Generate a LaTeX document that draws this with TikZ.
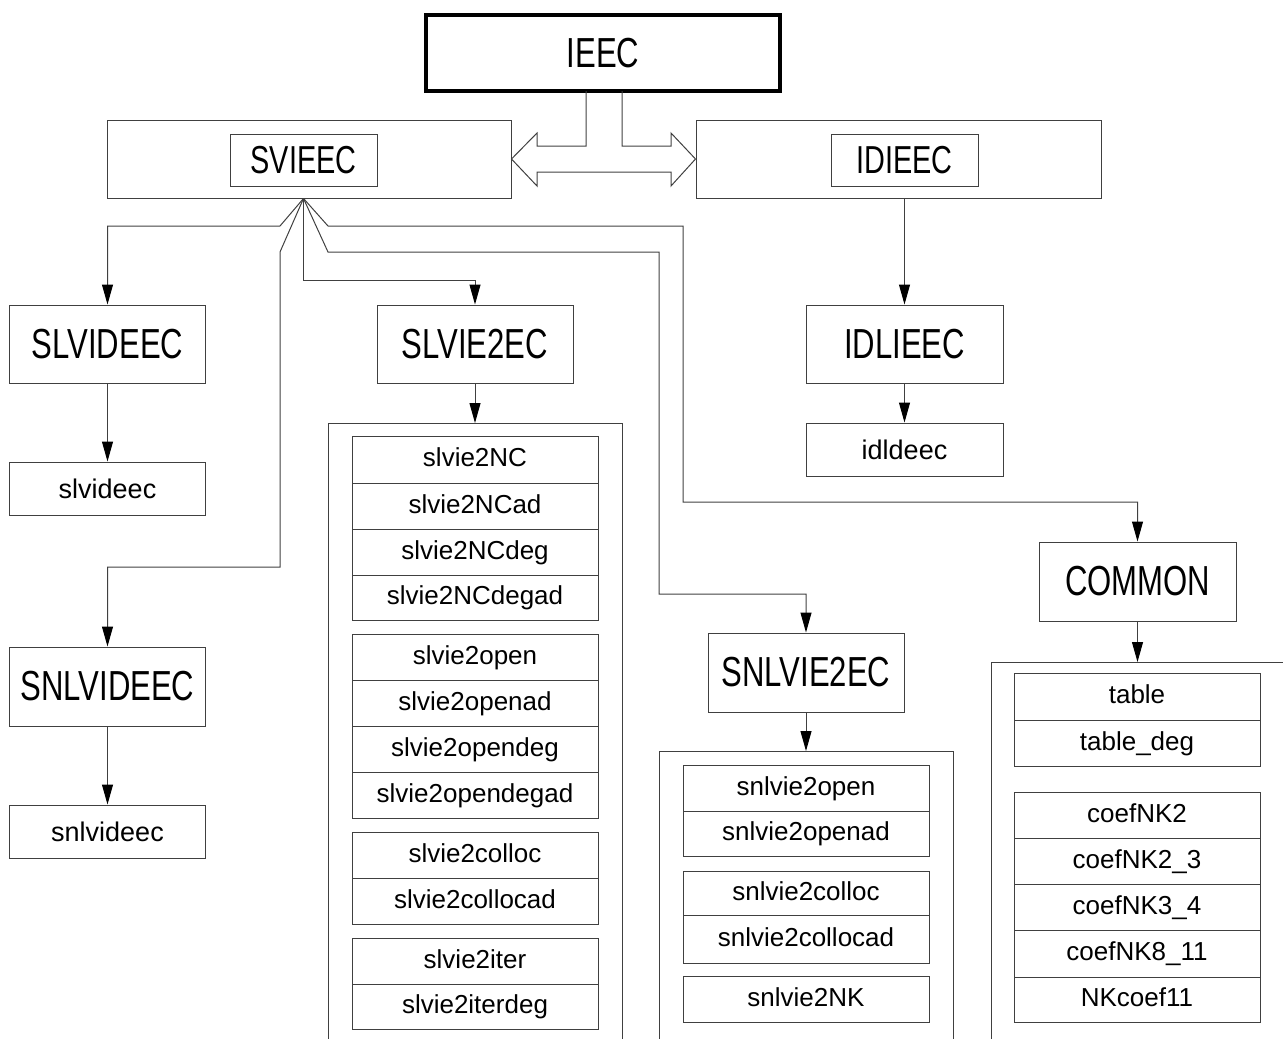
\documentclass[tikz,border=0pt]{standalone}
\usepackage{fontspec}
\setmainfont{Liberation Sans}
\newfontfamily\capsfont[FakeStretch=0.74]{Liberation Sans}
\usetikzlibrary{arrows.meta}

\begin{document}
\begin{tikzpicture}[x=1pt, y=-1pt,
    box/.style={draw=black!75, line width=1pt, inner sep=0pt},
    bigbox/.style={box, minimum width=196pt, minimum height=78pt, font=\capsfont\fontsize{42}{42}\selectfont},
    smallbox/.style={box, minimum width=196pt, minimum height=53pt, font=\fontsize{27}{27}\selectfont},
    item/.style={box, minimum width=246pt, font=\fontsize{26}{26}\selectfont, text height=18pt, text depth=4pt},
    link/.style={draw=black!75, line width=1pt},
    arr/.style={link, -{Triangle[length=20pt,width=11pt,color=black]}}]
    \useasboundingbox (0,0) rectangle (1283,1039);

    % Draw the top block
    \node[box, draw=black, line width=4.5pt, minimum width=354pt, minimum height=76pt,
          font=\capsfont\fontsize{42}{42}\selectfont] (ieec) at (603,53) {IEEC};

    % Draw the two main blocks
    \node[box, minimum width=404pt, minimum height=78pt] (svout) at (309,159) {};
    \node[box, minimum width=147pt, minimum height=52pt, font=\capsfont\fontsize{39}{39}\selectfont] (svin) at (303.5,160) {SVIEEC};
    \node[box, minimum width=405pt, minimum height=78pt] (idout) at (898.5,159) {};
    \node[box, minimum width=147pt, minimum height=52pt, font=\capsfont\fontsize{39}{39}\selectfont] (idin) at (904.5,160) {IDIEEC};

    % Draw the double block arrow
    \draw[link] (586,91) -- (586,146) -- (537,146) -- (537,133) -- (svout.east)
        -- (537,186) -- (537,172) -- (671,172) -- (671,186) -- (idout.west)
        -- (671,133) -- (671,146) -- (622,146) -- (622,91);

    % Draw the second level
    \node[bigbox] (slvbig) at (107.5,344) {SLVIDEEC};
    \node[smallbox] (slvsmall) at (107.5,488.5) {slvideec};
    \node[bigbox, minimum height=79pt] (snlvbig) at (107.5,686.5) {SNLVIDEEC};
    \node[smallbox] (snlvsmall) at (107.5,831.5) {snlvideec};
    \node[bigbox] (slvie2) at (475,344) {SLVIE2EC};
    \node[bigbox, minimum height=79pt] (snlvie2) at (806,672.5) {SNLVIE2EC};
    \node[bigbox, minimum width=197pt] (idlieec) at (904.5,344) {IDLIEEC};
    \node[smallbox, minimum width=197pt] (idldeec) at (904.5,449.5) {idldeec};
    \node[bigbox, minimum width=197pt, minimum height=79pt] (common) at (1137.5,581.5) {COMMON};

    % Draw the open frames
    \draw[link] (328,1039) -- (328,423) -- (622,423) -- (622,1039);
    \draw[link] (659,1039) -- (659,751) -- (953,751) -- (953,1039);
    \draw[link] (991,1039) -- (991,662) -- (1283,662);
    \coordinate (slvtop) at (475,423);
    \coordinate (snltop) at (806,751);
    \coordinate (comtop) at (1137.5,662);

    % Draw the file lists
    \foreach \n/\y/\h/\s in {a1/459.5/47/slvie2NC, a2/506/46/slvie2NCad, a3/552/46/slvie2NCdeg,
        a4/597.5/45/slvie2NCdegad, a5/657/46/slvie2open, a6/703/46/slvie2openad,
        a7/749/46/slvie2opendeg, a8/795/46/slvie2opendegad, a9/855/46/slvie2colloc,
        a10/901/46/slvie2collocad, a11/961/46/slvie2iter, a12/1006.5/45/slvie2iterdeg}
        \node[item, minimum height=\h pt] (\n) at (475,\y) {\s};
    \foreach \n/\y/\h/\s in {b1/788/46/snlvie2open, b2/833.5/45/snlvie2openad,
        b3/893/44/snlvie2colloc, b4/939/48/snlvie2collocad, b5/999/46/snlvie2NK}
        \node[item, minimum height=\h pt] (\n) at (806,\y) {\s};
    \foreach \n/\y/\h/\s in {c1/696.5/47/table, c2/743/46/table\_deg, c3/815/46/coefNK2,
        c4/861/46/coefNK2\_3, c5/907/46/coefNK3\_4, c6/953.5/47/coefNK8\_11, c7/999.5/45/NKcoef11}
        \node[item, minimum height=\h pt] (\n) at (1137,\y) {\s};

    % Draw the connectors from SVIEEC
    \coordinate (fan) at (svin.center |- svout.south);
    \draw[arr] (fan) -- (280,226) -- (slvbig.north |- 0,226) -- (slvbig.north);
    \draw[arr] (fan) -- (280,252) -- (280,567) -- (snlvbig.north |- 0,567) -- (snlvbig.north);
    \draw[arr] (fan) -- (fan |- 0,280) -- (slvie2.north |- 0,280) -- (slvie2.north);
    \draw[arr] (fan) -- (328,252) -- (659,252) -- (659,594) -- (snlvie2.north |- 0,594) -- (snlvie2.north);
    \draw[arr] (fan) -- (328,226) -- (683,226) -- (683,502) -- (common.north |- 0,502) -- (common.north);

    % Draw the other connectors
    \draw[arr] (idin.south |- idout.south) -- (idlieec.north);
    \draw[arr] (idlieec) -- (idldeec);
    \draw[arr] (slvbig) -- (slvsmall);
    \draw[arr] (snlvbig) -- (snlvsmall);
    \draw[arr] (slvie2) -- (slvtop);
    \draw[arr] (snlvie2) -- (snltop);
    \draw[arr] (common) -- (comtop);
\end{tikzpicture}
\end{document}
